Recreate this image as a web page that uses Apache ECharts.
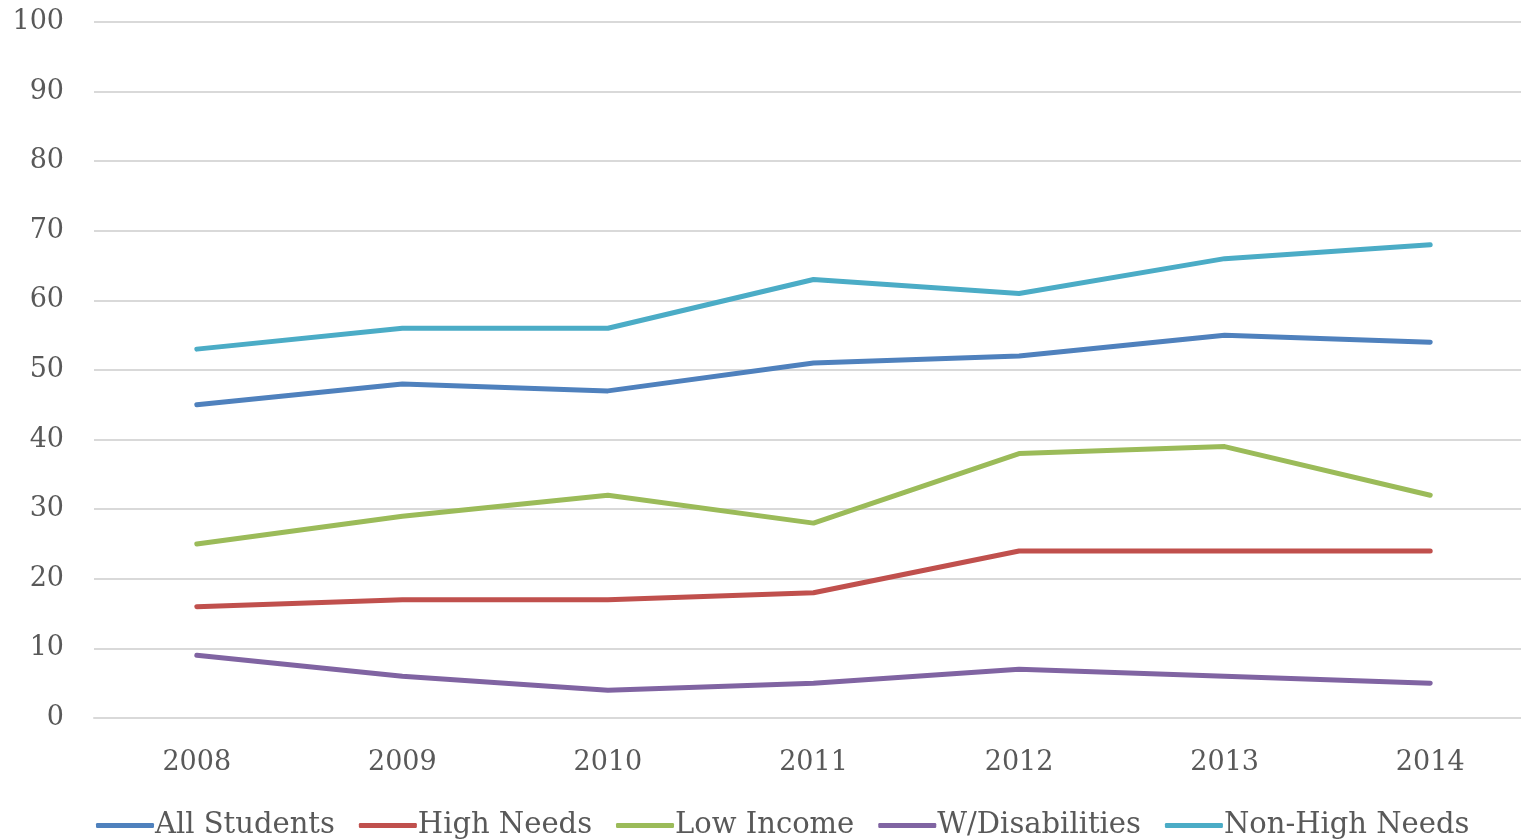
<!DOCTYPE html>
<html><head><meta charset="utf-8">
<script src="https://cdn.jsdelivr.net/npm/echarts@6/dist/echarts.min.js"></script>
<style>html,body{margin:0;padding:0;background:#fff}#c{width:1521px;height:840px}</style>
</head><body><div id="c"></div>
<script>
const years = ['2008','2009','2010','2011','2012','2013','2014'];
const allStudents = [45, 48, 47, 51, 52, 55, 54];
const highNeeds = [16, 17, 17, 18, 24, 24, 24];
const lowIncome = [25, 29, 32, 28, 38, 39, 32];
const wDisabilities = [9, 6, 4, 5, 7, 6, 5];
const nonHighNeeds = [53, 56, 56, 63, 61, 66, 68];
const seriesNames = ['All Students','High Needs','Low Income','W/Disabilities','Non-High Needs'];
const seriesData = [allStudents, highNeeds, lowIncome, wDisabilities, nonHighNeeds];
const colors = ['#4F81BD','#C0504D','#9BBB59','#8064A2','#4BACC6'];
const font = 'DejaVu Serif';
const chart = echarts.init(document.getElementById('c'));
chart.setOption({
  animation: false,
  color: colors,
  grid: {left: 94, width: 1439, top: 22, bottom: 122, containLabel: false, outerBoundsMode: 'none'},
  legend: {
    data: seriesNames, left: 91, top: 806, itemGap: 24, itemWidth: 58, itemHeight: 5,
    icon: 'roundRect',
    textStyle: {fontFamily: font, fontSize: 29, color: '#595959', padding: [0,0,0,-4]}
  },
  xAxis: {
    type: 'category', data: years, boundaryGap: true,
    axisLine: {show: true, lineStyle: {color: '#d9d9d9', width: 2}},
    axisTick: {show: false},
    axisLabel: {fontFamily: font, fontSize: 27, color: '#595959', margin: 31}
  },
  yAxis: {
    type: 'value', min: 0, max: 100, interval: 10,
    axisLine: {show: false}, axisTick: {show: false},
    splitLine: {lineStyle: {color: '#d9d9d9', width: 2}},
    axisLabel: {fontFamily: font, fontSize: 27, color: '#595959', margin: 30}
  },
  series: seriesNames.map((n, i) => ({
    name: n, type: 'line', data: seriesData[i], symbol: 'none',
    lineStyle: {width: 5, cap: 'round', join: 'round'}
  }))
});
</script></body></html>
